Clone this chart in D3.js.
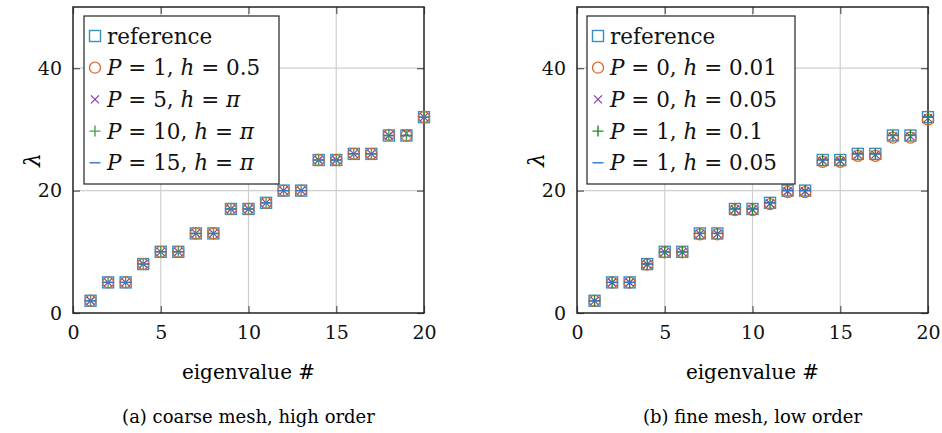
<!DOCTYPE html>
<html>
<head>
<meta charset="utf-8">
<script src="https://cdn.jsdelivr.net/npm/d3@7"></script>
<style>
  body { margin: 0; background: #fff; }
</style>
</head>
<body>
<svg id="chart" width="942" height="433"></svg>
<script>
// eigenvalue index
var eigIndex = [1, 2, 3, 4, 5, 6, 7, 8, 9, 10, 11, 12, 13, 14, 15, 16, 17, 18, 19, 20];

// panel (a)
var refA   = [2, 5, 5, 8, 10, 10, 13, 13, 17, 17, 18, 20, 20, 25, 25, 26, 26, 29, 29, 32];
var p1h05  = [2, 5, 5, 8, 10, 10, 13, 13, 17, 17, 18, 20, 20, 25, 25, 26, 26, 29.1, 29, 32];
var p5hpi  = [2, 5, 5, 8, 10, 10, 13, 13, 17, 17, 18, 20, 20, 25, 25, 26, 26, 29, 29.35, 32];
var p10hpi = [2, 5, 5, 8, 10, 10, 13, 13, 17, 17, 18, 20, 20, 25, 25, 26, 26, 29, 29, 32];
var p15hpi = [2, 5, 5, 8, 10, 10, 13, 13, 17, 17, 18, 20, 20, 25, 25, 26, 26, 29, 29, 32];

// panel (b)
var refB    = [2, 5, 5, 8, 10, 10, 13, 13, 17, 17, 18, 20, 20, 25, 25, 26, 26, 29, 29, 32];
var p0h001  = [1.98, 4.95, 4.95, 7.91, 9.89, 9.89, 12.85, 12.85, 16.8, 16.8, 17.78, 19.75, 19.75, 24.7, 24.7, 25.68, 25.68, 28.64, 28.64, 31.6];
var p0h005  = [1.99, 4.98, 4.98, 7.96, 9.95, 9.95, 12.94, 12.94, 16.91, 16.91, 17.9, 19.9, 19.9, 24.87, 24.87, 25.87, 25.87, 28.85, 28.85, 31.84];
var p1h01   = [2, 5, 5, 8, 10, 10, 13.01, 13.01, 17.01, 17.01, 18.01, 20.02, 20.02, 25.02, 25.02, 26.02, 26.02, 29.03, 29.03, 32.03];
var p1h005  = [2, 5, 5, 8, 10, 10, 13, 13, 17, 17, 18, 20, 20, 25, 25, 26, 26, 29, 29, 32];

var xTicks = [0, 5, 10, 15, 20];
var yTicks = [0, 20, 40];

var FONT = "DejaVu Serif";
var svg = d3.select("#chart").attr("font-family", FONT);

var panels = [
    { left: 73, caption: "(a) coarse mesh, high order", legendW: 195,
      series: [
        { values: refA,   mark: "square", color: "#3a8fc0", label: [["reference", false]] },
        { values: p1h05,  mark: "circle", color: "#d9692a", label: [["P", true], [" = 1, ", false], ["h", true], [" = 0.5", false]] },
        { values: p5hpi,  mark: "cross",  color: "#7e3fa8", label: [["P", true], [" = 5, ", false], ["h", true], [" = ", false], ["π", true]] },
        { values: p10hpi, mark: "plus",   color: "#4e9e4e", label: [["P", true], [" = 10, ", false], ["h", true], [" = ", false], ["π", true]] },
        { values: p15hpi, mark: "minus",  color: "#3075cc", label: [["P", true], [" = 15, ", false], ["h", true], [" = ", false], ["π", true]] }
      ] },
    { left: 577, caption: "(b) fine mesh, low order", legendW: 208,
      series: [
        { values: refB,   mark: "square", color: "#3a8fc0", label: [["reference", false]] },
        { values: p0h001, mark: "circle", color: "#d9692a", label: [["P", true], [" = 0, ", false], ["h", true], [" = 0.01", false]] },
        { values: p0h005, mark: "cross",  color: "#7e3fa8", label: [["P", true], [" = 0, ", false], ["h", true], [" = 0.05", false]] },
        { values: p1h01,  mark: "plus",   color: "#1f8a1f", label: [["P", true], [" = 1, ", false], ["h", true], [" = 0.1", false]] },
        { values: p1h005, mark: "minus",  color: "#3075cc", label: [["P", true], [" = 1, ", false], ["h", true], [" = 0.05", false]] }
      ] }
];

var width = 351, marginTop = 7, height = 306;

function drawMark(g, type, color, cx, cy) {
    var s = 5.5;
    if (type == "square") {
        g.append("rect").attr("x", cx - s).attr("y", cy - s).attr("width", 2 * s).attr("height", 2 * s)
            .attr("fill", "none").attr("stroke", color).attr("stroke-width", 1.4);
    } else if (type == "circle") {
        g.append("circle").attr("cx", cx).attr("cy", cy).attr("r", s)
            .attr("fill", "none").attr("stroke", color).attr("stroke-width", 1.3);
    } else if (type == "cross") {
        var c = 4;
        g.append("path").attr("d", "M" + (cx - c) + "," + (cy - c) + "L" + (cx + c) + "," + (cy + c) +
                "M" + (cx - c) + "," + (cy + c) + "L" + (cx + c) + "," + (cy - c))
            .attr("stroke", color).attr("stroke-width", 1.2);
    } else if (type == "plus") {
        g.append("path").attr("d", "M" + (cx - s) + "," + cy + "L" + (cx + s) + "," + cy +
                "M" + cx + "," + (cy - s) + "L" + cx + "," + (cy + s))
            .attr("stroke", color).attr("stroke-width", 1.4);
    } else {
        g.append("path").attr("d", "M" + (cx - s) + "," + cy + "L" + (cx + s) + "," + cy)
            .attr("stroke", color).attr("stroke-width", 1.4);
    }
}

panels.forEach(function(p) {
    var g = svg.append("g").attr("transform", "translate(" + p.left + "," + marginTop + ")");

    var x = d3.scaleLinear().domain([0, 20]).range([0, width]);
    var y = d3.scaleLinear().domain([0, 50]).range([height, 0]);

    // grid
    g.selectAll(".vgrid").data(xTicks.slice(1, -1)).enter().append("line")
        .attr("x1", function(d) { return x(d); }).attr("x2", function(d) { return x(d); })
        .attr("y1", 0).attr("y2", height)
        .attr("stroke", "#cfcfcf").attr("stroke-width", 1.2);
    g.selectAll(".hgrid").data(yTicks.slice(1)).enter().append("line")
        .attr("y1", function(d) { return y(d); }).attr("y2", function(d) { return y(d); })
        .attr("x1", 0).attr("x2", width)
        .attr("stroke", "#cfcfcf").attr("stroke-width", 1.2);

    // axes (inside ticks, labels outside)
    var xAxis = g.append("g").attr("transform", "translate(0," + height + ")")
        .call(d3.axisBottom(x).tickValues(xTicks).tickSize(-7).tickPadding(12).tickFormat(d3.format("d")));
    var xAxisTop = g.append("g")
        .call(d3.axisTop(x).tickValues(xTicks).tickSize(-7).tickFormat(""));
    var yAxis = g.append("g")
        .call(d3.axisLeft(y).tickValues(yTicks).tickSize(-7).tickPadding(11).tickFormat(d3.format("d")));
    var yAxisR = g.append("g").attr("transform", "translate(" + width + ",0)")
        .call(d3.axisRight(y).tickValues(yTicks).tickSize(-7).tickFormat(""));
    [xAxis, xAxisTop, yAxis, yAxisR].forEach(function(a) {
        a.attr("font-family", FONT).attr("font-size", 19);
        a.select(".domain").remove();
        a.selectAll(".tick line").attr("stroke", "#555").attr("stroke-width", 1.2);
        a.selectAll("text").attr("fill", "#111");
    });
    xAxis.selectAll("text").attr("dy", "0.75em");

    // frame
    g.append("rect").attr("width", width).attr("height", height)
        .attr("fill", "none").attr("stroke", "#222").attr("stroke-width", 1.5);

    // data
    p.series.forEach(function(s) {
        var sg = g.append("g");
        s.values.forEach(function(v, i) {
            drawMark(sg, s.mark, s.color, x(eigIndex[i]), y(v));
        });
    });

    // legend
    var lg = g.append("g").attr("transform", "translate(" + (p.left == 73 ? 11 : 10) + ",9)");
    lg.append("rect").attr("width", p.legendW).attr("height", 168)
        .attr("fill", "#fff").attr("stroke", "#222").attr("stroke-width", 1.2);
    p.series.forEach(function(s, i) {
        var cy = 20 + i * 31.7;
        drawMark(lg, s.mark, s.color, 11, cy);
        var t = lg.append("text").attr("x", 23).attr("y", cy + 7.5)
            .attr("font-size", 21.5).attr("fill", "#111")
            .attr("xml:space", "preserve");
        s.label.forEach(function(part) {
            t.append("tspan").text(part[0]).attr("font-style", part[1] ? "italic" : "normal");
        });
    });

    // axis labels
    g.append("text").attr("transform", "translate(-33," + (height / 2) + ") rotate(-90)")
        .attr("text-anchor", "middle").attr("font-size", 22)
        .attr("font-style", "italic").text("λ");
    g.append("text").attr("x", width / 2).attr("y", 379 - marginTop).attr("text-anchor", "middle")
        .attr("font-size", 20).text("eigenvalue #");
    g.append("text").attr("x", width / 2).attr("y", 423 - marginTop).attr("text-anchor", "middle")
        .attr("font-size", 18).text(p.caption);
});
</script>
</body>
</html>
